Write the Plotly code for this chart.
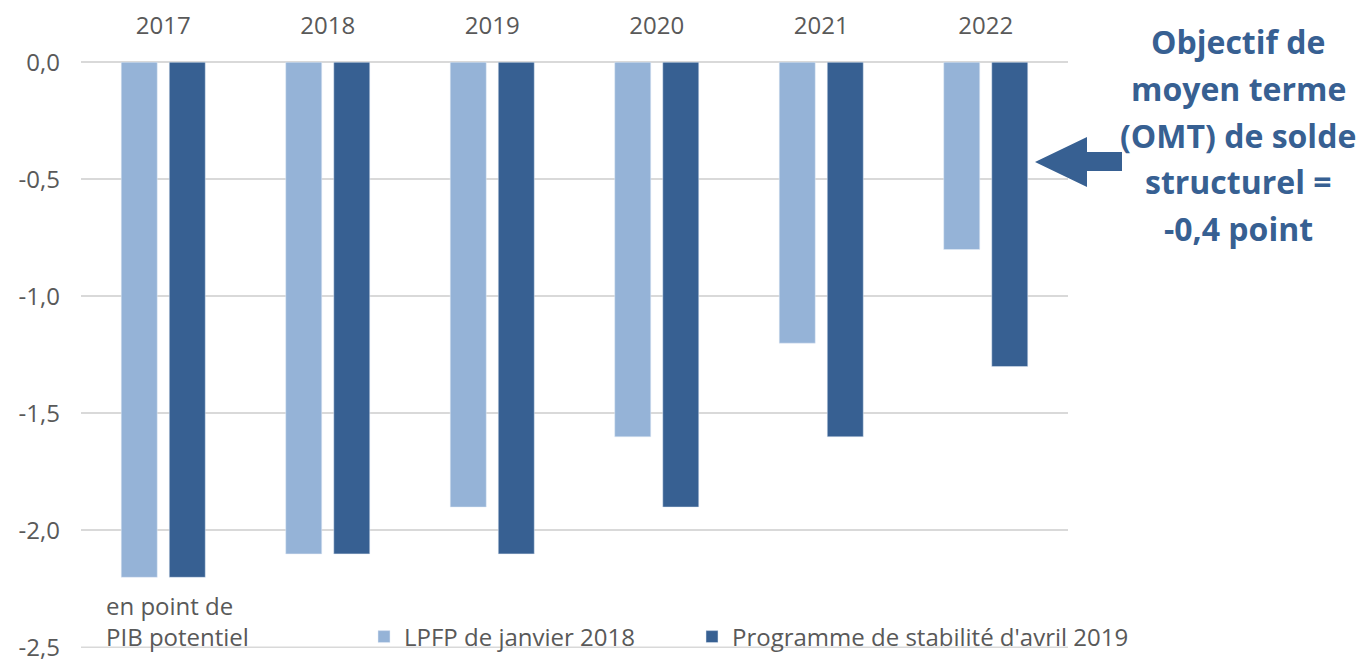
import plotly.graph_objects as go

years = ["2017", "2018", "2019", "2020", "2021", "2022"]
lpfp_2018 = [-2.2, -2.1, -1.9, -1.6, -1.2, -0.8]
ps_2019 = [-2.2, -2.1, -2.1, -1.9, -1.6, -1.3]
y_ticks = [0.0, -0.5, -1.0, -1.5, -2.0, -2.5]
y_ticktext = [f"{v:.1f}".replace(".", ",") for v in y_ticks]
omt_lines = ["Objectif de", "moyen terme", "(OMT) de solde", "structurel =", "-0,4 point"]

W, H = 1367, 660
L, R, T, B = 81, 1068, 62, 648

def px(x):
    return (x - L) / (R - L)

def py(y):
    return (B - y) / (B - T)

FONT = "Open Sans"
GREY = "#595959"
LIGHT = "#95B3D7"
DARK = "#376092"
GRID = "#D9D9D9"
FS = 24

fig = go.Figure()
fig.add_trace(go.Bar(x=years, y=lpfp_2018, name="LPFP de janvier 2018",
                     marker=dict(color=LIGHT), legend="legend"))
fig.add_trace(go.Bar(x=years, y=ps_2019, name="Programme de stabilité d'avril 2019",
                     marker=dict(color=DARK), legend="legend2"))

# bottom gridline (plotly drops gridlines at range ends)
fig.add_shape(type="line", xref="paper", yref="y", x0=0, x1=1,
              y0=y_ticks[-1], y1=y_ticks[-1], line=dict(color=GRID, width=2), layer="below")

# block arrow
pts = [(1035, 162), (1087, 137), (1087, 152), (1122, 152), (1122, 171), (1087, 171), (1087, 187)]
path = "M " + " L ".join(f"{px(a):.5f},{py(b):.5f}" for a, b in pts) + " Z"
fig.add_shape(type="path", xref="paper", yref="paper", path=path,
              fillcolor=DARK, line=dict(width=0))

for i, line in enumerate(omt_lines):
    fig.add_annotation(xref="paper", yref="paper", x=px(1238), y=py(42 + 46.5 * i),
                       text=f"<b>{line}</b>", showarrow=False,
                       xanchor="center", yanchor="middle",
                       font=dict(family=FONT, size=32, color=DARK))

fig.add_annotation(xref="paper", yref="paper", x=px(104), y=py(621),
                   text="en point de<br>PIB potentiel", showarrow=False,
                   align="left", xanchor="left", yanchor="middle",
                   font=dict(family=FONT, size=FS, color=GREY))

leg_common = dict(orientation="h", y=py(637), xanchor="left", yanchor="middle",
                  font=dict(family=FONT, size=FS, color=GREY), bgcolor="rgba(0,0,0,0)",
                  itemwidth=30)

fig.update_layout(
    width=W, height=H,
    margin=dict(l=L, r=W - R, t=T, b=H - B, pad=0, autoexpand=False),
    plot_bgcolor="white", paper_bgcolor="white",
    barmode="group", bargap=0.416, bargroupgap=0.25,
    font=dict(family=FONT, size=FS, color=GREY),
    legend=dict(x=px(364), **leg_common),
    legend2=dict(x=px(692), **leg_common),
    showlegend=True,
)
fig.update_xaxes(side="top", showgrid=False, showline=False, ticks="", automargin=False,
                 ticklabelstandoff=22, tickfont=dict(family=FONT, size=FS, color=GREY))
fig.update_yaxes(range=[-2.502, 0.001], tickvals=y_ticks, ticktext=y_ticktext, automargin=False,
                 showgrid=True, gridcolor=GRID, gridwidth=2,
                 zeroline=True, zerolinecolor=GRID, zerolinewidth=2,
                 showline=False, ticks="", ticklabelstandoff=20, ticklabeloverflow="allow",
                 tickfont=dict(family=FONT, size=FS, color=GREY))

fig.write_html("out.html", config={"displayModeBar": False},
               post_script="document.body.style.margin='0px';document.body.style.overflow='hidden';")
